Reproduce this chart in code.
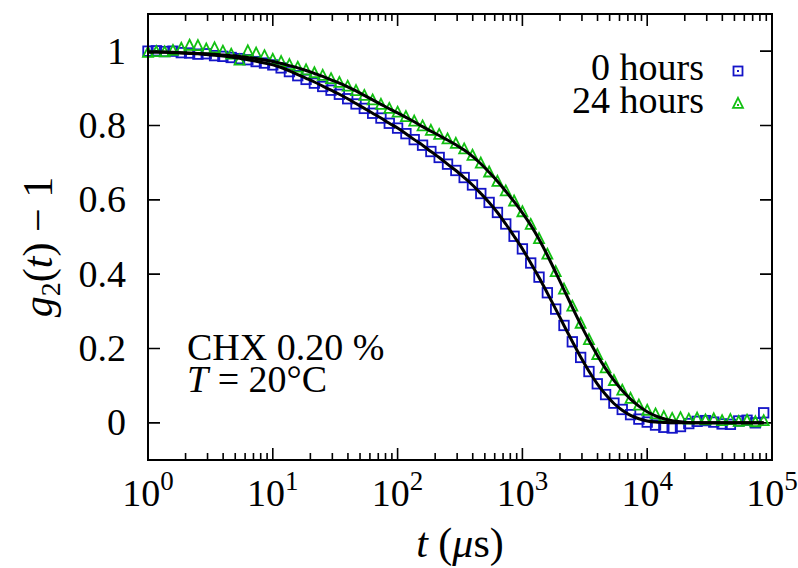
<!DOCTYPE html>
<html>
<head>
<meta charset="utf-8">
<script src="https://cdn.jsdelivr.net/npm/d3@7"></script>
<style>
  html, body { margin: 0; padding: 0; background: #fff; }
  svg { display: block; font-family: "Liberation Serif", "DejaVu Serif", serif; }
</style>
</head>
<body>
<div id="chart"></div>
<script>
// lag times (microseconds)
const lagTimes = [
  1, 1.166, 1.359, 1.585, 1.848, 2.154, 2.512, 2.929, 3.415, 3.981, 4.642, 5.412, 6.31, 7.356, 8.577,
  10, 11.66, 13.59, 15.85, 18.48, 21.54, 25.12, 29.29, 34.15, 39.81, 46.42, 54.12, 63.1, 73.56, 85.77,
  100, 116.6, 135.9, 158.5, 184.8, 215.4, 251.2, 292.9, 341.5, 398.1, 464.2, 541.2, 631, 735.6, 857.7,
  1000, 1166, 1359, 1585, 1848, 2154, 2512, 2929, 3415, 3981, 4642, 5412, 6310, 7356, 8577,
  10000, 11660, 13590, 15850, 18480, 21540, 25120, 29290, 34150, 39810, 46420, 54120, 63100, 73560, 85770,
];

// measured g2(t)-1, 0 hours
const data0h = [
  1.0, 1.001, 0.999, 1.0, 0.996, 0.995, 0.992, 0.993, 0.988, 0.986, 0.983, 0.98, 0.977, 0.972, 0.968,
  0.963, 0.955, 0.945, 0.934, 0.924, 0.914, 0.905, 0.895, 0.884, 0.872, 0.858, 0.846, 0.833, 0.82, 0.806,
  0.793, 0.778, 0.762, 0.747, 0.73, 0.714, 0.696, 0.679, 0.66, 0.64, 0.617, 0.593, 0.566, 0.535, 0.502,
  0.468, 0.43, 0.392, 0.35, 0.306, 0.262, 0.218, 0.176, 0.138, 0.105, 0.076, 0.053, 0.036, 0.022, 0.01,
  0.002, -0.006, -0.012, -0.014, -0.01, -0.002, 0.004, 0.006, 0.002, -0.003, -0.004, 0.005, 0.007, 0.0, 0.027,
];

// measured g2(t)-1, 24 hours
const data24h = [
  0.995, 0.997, 0.996, 1.0, 1.006, 1.014, 1.013, 1.004, 1.007, 0.998, 0.99, 0.974, 0.999, 0.993, 0.986,
  0.976, 0.97, 0.962, 0.955, 0.948, 0.94, 0.933, 0.924, 0.914, 0.904, 0.892, 0.879, 0.867, 0.855, 0.844,
  0.834, 0.822, 0.81, 0.797, 0.785, 0.774, 0.762, 0.75, 0.735, 0.718, 0.697, 0.673, 0.648, 0.622, 0.595,
  0.566, 0.532, 0.494, 0.452, 0.405, 0.358, 0.312, 0.266, 0.222, 0.182, 0.146, 0.112, 0.086, 0.064, 0.046,
  0.032, 0.022, 0.015, 0.01, 0.012, 0.008, 0.011, 0.006, 0.009, 0.004, 0.007, 0.002, 0.005, 0.001, 0.004,
];

// fitted curves
const fit0h = [
  0.998, 0.998, 0.997, 0.996, 0.995, 0.994, 0.993, 0.991, 0.989, 0.987, 0.984, 0.981, 0.977, 0.973, 0.968,
  0.963, 0.956, 0.947, 0.937, 0.927, 0.917, 0.906, 0.895, 0.884, 0.872, 0.859, 0.846, 0.833, 0.82, 0.806,
  0.793, 0.778, 0.762, 0.747, 0.73, 0.714, 0.696, 0.679, 0.66, 0.64, 0.617, 0.593, 0.566, 0.535, 0.502,
  0.468, 0.43, 0.391, 0.349, 0.306, 0.262, 0.219, 0.177, 0.139, 0.105, 0.076, 0.052, 0.034, 0.02, 0.011,
  0.005, 0.002, 0.001, 0, 0, 0, 0, 0, 0, 0, 0, 0, 0, 0, 0,
];
const fit24h = [
  0.998, 0.998, 0.998, 0.997, 0.996, 0.995, 0.994, 0.993, 0.992, 0.99, 0.988, 0.986, 0.983, 0.98, 0.976,
  0.972, 0.967, 0.961, 0.955, 0.948, 0.94, 0.932, 0.923, 0.914, 0.904, 0.893, 0.881, 0.869, 0.857, 0.845,
  0.834, 0.822, 0.81, 0.797, 0.785, 0.773, 0.761, 0.748, 0.734, 0.717, 0.697, 0.674, 0.65, 0.623, 0.595,
  0.565, 0.532, 0.494, 0.451, 0.405, 0.358, 0.311, 0.265, 0.222, 0.182, 0.146, 0.114, 0.087, 0.064, 0.045,
  0.03, 0.019, 0.011, 0.006, 0.003, 0.001, 0, 0, 0, 0, 0, 0, 0, 0, 0,
];

const yTicks = [0, 0.2, 0.4, 0.6, 0.8, 1];
const yTickLabels = ["0", "0.2", "0.4", "0.6", "0.8", "1"];
const xDecades = [0, 1, 2, 3, 4, 5];
const seriesNames = ["0 hours", "24 hours"];

const COLORS = { blue: "#1414c8", green: "#12c012" };

const width = 798;
const height = 568;
const margin = { top: 14, right: 26, bottom: 108, left: 148 };

const x = d3
  .scaleLog()
  .domain([1, 1e5])
  .range([margin.left, width - margin.right]);
const y = d3
  .scaleLinear()
  .domain([-0.1, 1.1])
  .range([height - margin.bottom, margin.top]);

const svg = d3
  .select("#chart")
  .append("svg")
  .attr("width", width)
  .attr("height", height)
  .attr("viewBox", [0, 0, width, height]);

const x0 = margin.left;
const x1 = width - margin.right;
const y0 = height - margin.bottom;
const y1 = margin.top;

// ticks (inward, mirrored)
const minorTicks = [];
xDecades.slice(0, -1).forEach((e) => {
  for (const m of [2, 3, 4, 5, 6, 7, 8, 9]) minorTicks.push(m * Math.pow(10, e));
});
const gTicks = svg.append("g").attr("stroke", "#000").attr("stroke-width", 1.6);
gTicks
  .selectAll(".xmaj")
  .data(xDecades)
  .join("path")
  .attr("d", (e) => {
    const px = x(Math.pow(10, e));
    return `M${px},${y0}v-12M${px},${y1}v12`;
  });
gTicks
  .selectAll(".xmin")
  .data(minorTicks)
  .join("path")
  .attr("class", "xmin")
  .attr("d", (v) => `M${x(v)},${y0}v-7M${x(v)},${y1}v7`);
gTicks
  .selectAll(".ymaj")
  .data(yTicks)
  .join("path")
  .attr("class", "ymaj")
  .attr("d", (v) => `M${x0},${y(v)}h12M${x1},${y(v)}h-12`);

// data points
const gPts = svg.append("g").attr("fill", "none").attr("stroke-width", 1.8);
const pts0 = lagTimes.map((t, i) => [t, data0h[i]]);
const pts24 = lagTimes.map((t, i) => [t, data24h[i]]);
const sq = 9.5;
gPts
  .append("g")
  .attr("stroke", COLORS.blue)
  .selectAll("rect")
  .data(pts0)
  .join("rect")
  .attr("x", (d) => x(d[0]) - sq / 2)
  .attr("y", (d) => y(d[1]) - sq / 2)
  .attr("width", sq)
  .attr("height", sq);
const tri = (cx, cy, s) =>
  `M${cx},${cy - s * 0.62}L${cx + s / 2},${cy + s * 0.38}L${cx - s / 2},${cy + s * 0.38}Z`;
gPts
  .append("g")
  .attr("stroke", COLORS.green)
  .selectAll("path")
  .data(pts24)
  .join("path")
  .attr("d", (d) => tri(x(d[0]), y(d[1]), 10));

// fits
const line = d3
  .line()
  .x((d) => x(d[0]))
  .y((d) => y(d[1]))
  .curve(d3.curveMonotoneX);
svg
  .selectAll(".fit")
  .data([fit0h, fit24h])
  .join("path")
  .attr("class", "fit")
  .attr("fill", "none")
  .attr("stroke", "#000")
  .attr("stroke-width", 3)
  .attr("d", (f) => line(lagTimes.map((t, i) => [t, f[i]])));

// frame
svg
  .append("rect")
  .attr("x", x0)
  .attr("y", y1)
  .attr("width", x1 - x0)
  .attr("height", y0 - y1)
  .attr("fill", "none")
  .attr("stroke", "#000")
  .attr("stroke-width", 2);

// tick labels
const fs = 38;
svg
  .append("g")
  .attr("font-size", fs)
  .attr("text-anchor", "end")
  .selectAll("text")
  .data(yTicks)
  .join("text")
  .attr("x", x0 - 22)
  .attr("y", (v) => y(v))
  .attr("dy", "0.33em")
  .text((v, i) => yTickLabels[i]);

const xl = svg
  .append("g")
  .attr("font-size", fs)
  .attr("text-anchor", "middle")
  .selectAll("text")
  .data(xDecades)
  .join("text")
  .attr("x", (e) => x(Math.pow(10, e)))
  .attr("y", 506);
xl.append("tspan").text("10");
xl.append("tspan")
  .attr("font-size", 27)
  .attr("dy", -16)
  .text((e) => e);

// axis titles
const xt = svg
  .append("text")
  .attr("font-size", 42)
  .attr("text-anchor", "middle")
  .attr("x", (x0 + x1) / 2)
  .attr("y", 557);
xt.append("tspan").attr("font-style", "italic").text("t");
xt.append("tspan").text(" (");
xt.append("tspan").attr("font-style", "italic").text("μ");
xt.append("tspan").text("s)");

const yt = svg
  .append("text")
  .attr("font-size", 42)
  .attr("text-anchor", "middle")
  .attr("transform", `translate(52,${(y0 + y1) / 2 + 10})rotate(-90)`);
yt.append("tspan").attr("font-style", "italic").text("g");
yt.append("tspan").attr("font-size", 28).attr("dy", 8).text("2");
yt.append("tspan").attr("dy", -8).text("(");
yt.append("tspan").attr("font-style", "italic").text("t");
yt.append("tspan").text(") − 1");

// legend
const gLeg = svg.append("g").attr("font-size", fs);
gLeg
  .selectAll("text")
  .data(seriesNames)
  .join("text")
  .attr("text-anchor", "end")
  .attr("x", 704)
  .attr("y", (d, i) => 80 + i * 33)
  .text((d) => d);
gLeg
  .append("rect")
  .attr("x", 738 - 4.5)
  .attr("y", 71 - 4.5)
  .attr("width", 9)
  .attr("height", 9)
  .attr("fill", "none")
  .attr("stroke", COLORS.blue)
  .attr("stroke-width", 1.8);
gLeg.append("rect").attr("x", 737).attr("y", 70).attr("width", 2).attr("height", 2).attr("fill", COLORS.blue);
gLeg
  .append("path")
  .attr("d", tri(738, 104, 10))
  .attr("fill", "none")
  .attr("stroke", COLORS.green)
  .attr("stroke-width", 1.8);
gLeg.append("rect").attr("x", 737).attr("y", 104).attr("width", 2).attr("height", 2).attr("fill", COLORS.green);

// annotation
const gNote = svg.append("g").attr("font-size", fs);
gNote.append("text").attr("x", 187).attr("y", 360).text("CHX 0.20 %");
const t2 = gNote.append("text").attr("x", 187).attr("y", 392);
t2.append("tspan").attr("font-style", "italic").text("T");
t2.append("tspan").text(" = 20°C");
</script>
</body>
</html>
